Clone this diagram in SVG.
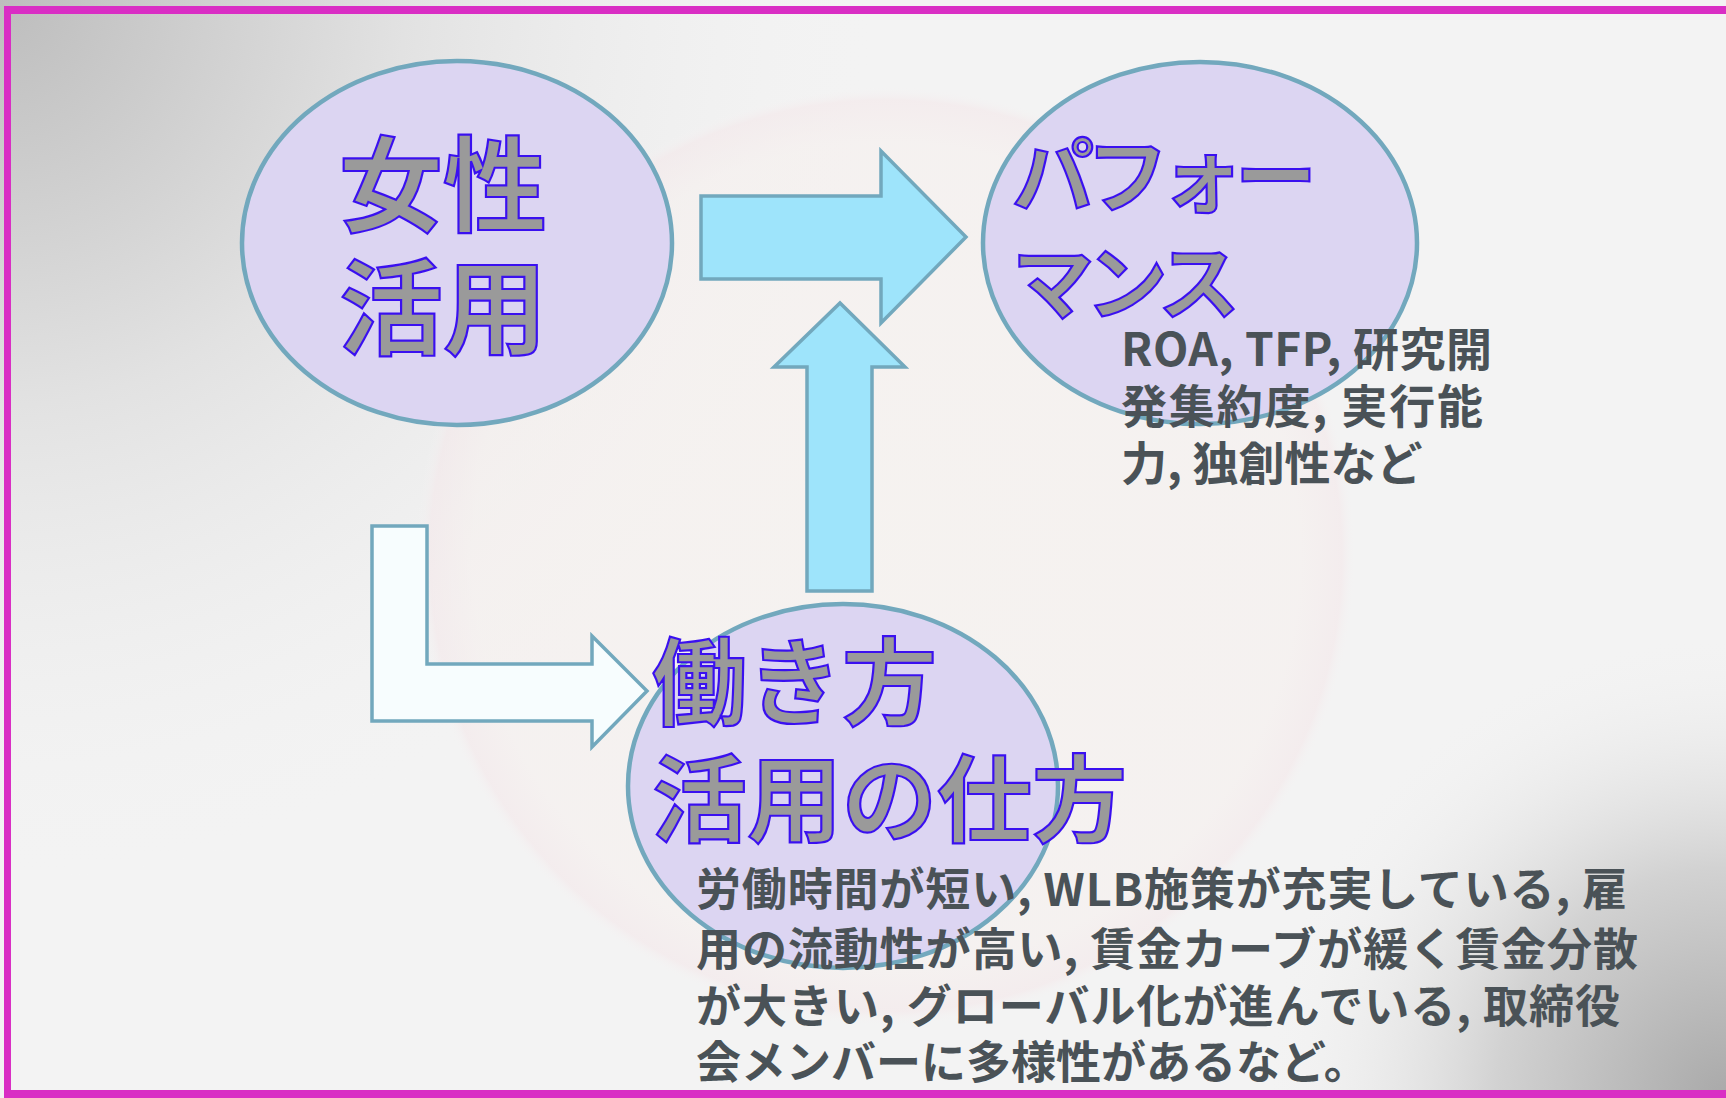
<svg xmlns="http://www.w3.org/2000/svg" width="1726" height="1098" viewBox="0 0 1726 1098">
  <defs>
    <radialGradient id="bgTL" cx="0" cy="0" r="900" gradientUnits="userSpaceOnUse">
      <stop offset="0" stop-color="#bdbdbd"/>
      <stop offset="0.45" stop-color="#e2e2e2"/>
      <stop offset="1" stop-color="#f4f4f4" stop-opacity="0"/>
    </radialGradient>
    <radialGradient id="bgBR" cx="1726" cy="1098" r="460" gradientUnits="userSpaceOnUse">
      <stop offset="0" stop-color="#a9a9a9"/>
      <stop offset="0.5" stop-color="#d2d2d2"/>
      <stop offset="1" stop-color="#f2f2f2" stop-opacity="0"/>
    </radialGradient>
    <radialGradient id="glow" cx="886" cy="556" r="470" gradientUnits="userSpaceOnUse">
      <stop offset="0" stop-color="#f6f2ef" stop-opacity="0.8"/>
      <stop offset="0.88" stop-color="#f6f0ee" stop-opacity="0.6"/>
      <stop offset="0.97" stop-color="#f4e8ea" stop-opacity="0.6"/>
      <stop offset="1" stop-color="#f4f4f4" stop-opacity="0"/>
    </radialGradient>
  </defs>
  <style>
    .node { fill: #dcd5f2; stroke: #72a8bd; stroke-width: 4.5; }
    .arrow { stroke: #72a8bd; stroke-width: 3.5; stroke-linejoin: miter; }
    .cyan { fill: #9ee4fb; }
    .pale { fill: #f7fdfe; }
    .big { font-family: "Noto Sans CJK JP", "Noto Sans", sans-serif; font-weight: 700; fill: #9a9a9a; stroke: #3a10f0; stroke-width: 2.2; }
    .desc { font-family: "Noto Sans CJK JP", "Noto Sans", sans-serif; font-weight: 700; fill: #4a5257; }
    .frame { fill: #d92ec4; }
  </style>

  <!-- background -->
  <rect x="0" y="0" width="1726" height="1098" fill="#f3f3f3"/>
  <rect x="0" y="0" width="1726" height="1098" fill="url(#bgTL)"/>
  <rect x="0" y="0" width="1726" height="1098" fill="url(#bgBR)"/>
  <circle cx="886" cy="556" r="470" fill="url(#glow)"/>

  <!-- frame -->
  <rect class="frame" x="4" y="6" width="1722" height="8"/>
  <rect class="frame" x="4" y="6" width="7" height="1092"/>
  <rect class="frame" x="4" y="1090" width="1722" height="8"/>

  <g id="connectors">
    <polygon id="arrow-josei-performance" class="arrow cyan" points="701,196 881,196 881,151 966,237 881,323 881,279 701,279"/>
    <polygon id="arrow-hatarakikata-performance" class="arrow cyan" points="807,591 807,367 774,367 840,303 905,367 872,367 872,591"/>
    <polygon id="arrow-josei-hatarakikata" class="arrow pale" points="372,526 427,526 427,664 592,664 592,636 647,691 592,747 592,721 372,721"/>
  </g>

  <g id="node-josei">
    <ellipse class="node" cx="457" cy="243" rx="215" ry="182"/>
    <text class="big" font-size="104" x="339" y="224">女性</text>
    <text class="big" font-size="104" x="339" y="347">活用</text>
  </g>

  <g id="node-performance">
    <ellipse class="node" cx="1200" cy="243" rx="217" ry="181"/>
    <text class="big" font-size="82" x="1012" y="206" textLength="305" lengthAdjust="spacing">パフォー</text>
    <text class="big" font-size="82" x="1012" y="313" textLength="228" lengthAdjust="spacing">マンス</text>
    <text class="desc" font-size="46" x="1121" y="366" textLength="371" lengthAdjust="spacing">ROA, TFP, 研究開</text>
    <text class="desc" font-size="46" x="1121" y="423" textLength="362" lengthAdjust="spacing">発集約度, 実行能</text>
    <text class="desc" font-size="46" x="1121" y="480">力, 独創性など</text>
  </g>

  <g id="node-hatarakikata">
    <ellipse class="node" cx="843" cy="786" rx="215" ry="182"/>
    <text class="big" font-size="95" x="652" y="718">働き方</text>
    <text class="big" font-size="95" x="652" y="835">活用の仕方</text>
    <text class="desc" font-size="45" x="696" y="906" textLength="931" lengthAdjust="spacing">労働時間が短い, WLB施策が充実している, 雇</text>
    <text class="desc" font-size="45" x="696" y="966" textLength="942" lengthAdjust="spacing">用の流動性が高い, 賃金カーブが緩く賃金分散</text>
    <text class="desc" font-size="45" x="696" y="1023" textLength="924" lengthAdjust="spacing">が大きい, グローバル化が進んでいる, 取締役</text>
    <text class="desc" font-size="45" x="696" y="1079">会メンバーに多様性があるなど。</text>
  </g>
</svg>
